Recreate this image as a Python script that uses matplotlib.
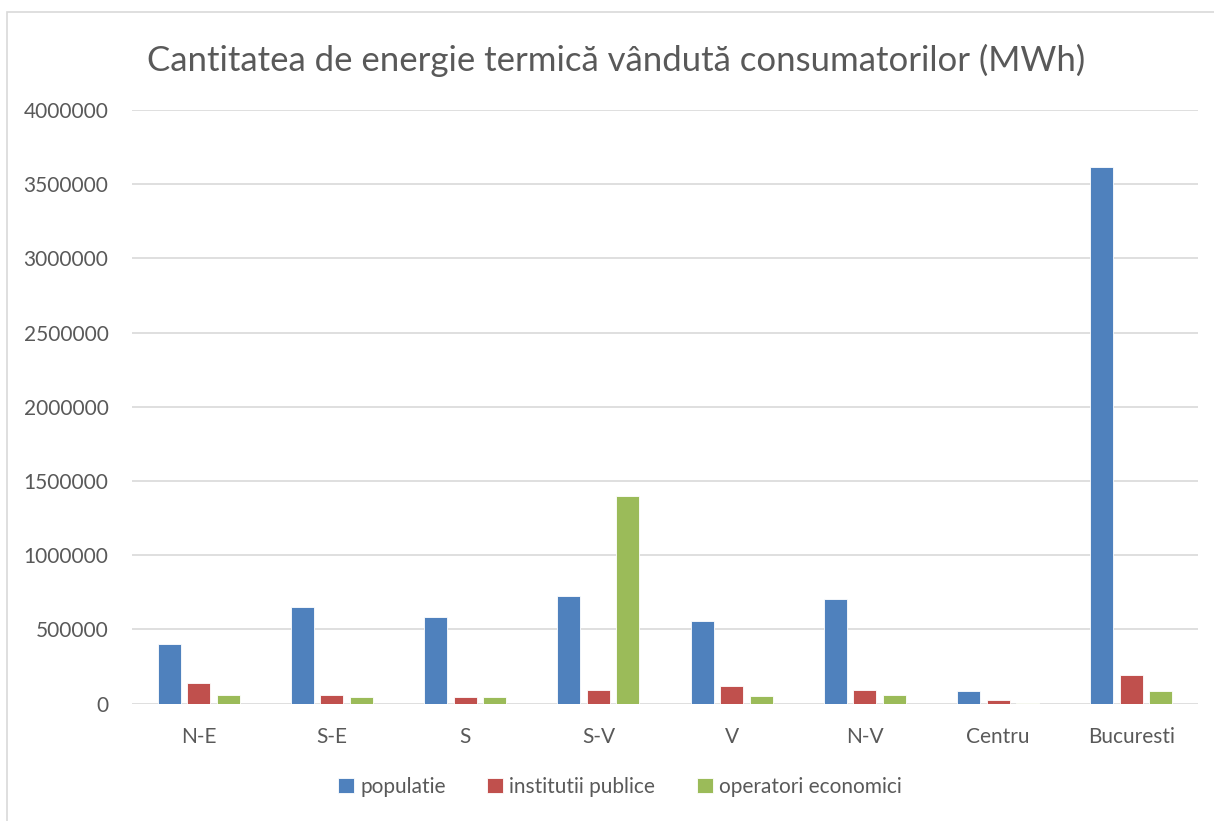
import numpy as np
import matplotlib.pyplot as plt
from matplotlib.patches import Rectangle

plt.rcParams['font.family'] = ['Lato', 'DejaVu Sans']

regiuni = ["N-E", "S-E", "S", "S-V", "V", "N-V", "Centru", "Bucuresti"]
populatie = [400000, 650000, 582000, 723000, 558000, 703000, 85000, 3616000]
institutii = [135000, 60000, 47000, 88000, 119000, 90000, 21000, 194000]
operatori = [54000, 47000, 41000, 1396000, 49000, 58000, 2000, 83000]
serii = ["populatie", "institutii publice", "operatori economici"]
culori = ["#4F81BD", "#C0504D", "#9BBB59"]
text_gri = "#595959"

fig = plt.figure(figsize=(12.14, 8.21), dpi=100)
ax = fig.add_axes([132 / 1214, 1 - 703.5 / 821, (1198 - 132) / 1214, (703.5 - 110) / 821])

# chenarul graficului
fig.patches.append(Rectangle((7 / 1214, -0.1), 1.2, 1 - 12 / 821 + 0.1,
                             transform=fig.transFigure, fill=False,
                             edgecolor="#D9D9D9", linewidth=1.2))

x = np.arange(len(regiuni))
w = 0.172
pas = 0.222
for i, (vals, nume) in enumerate(zip([populatie, institutii, operatori], serii)):
    ax.bar(x + (i - 1) * pas, vals, width=w, color=culori[i],
           edgecolor="white", linewidth=0.6, label=nume, zorder=3)

ax.set_xlim(-0.5, len(regiuni) - 0.5)
ax.set_ylim(0, 4000000)
ax.set_yticks(np.arange(0, 4000001, 500000))
ax.set_yticklabels([str(v) for v in range(0, 4000001, 500000)])
ax.set_xticks(x)
ax.set_xticklabels(regiuni)
ax.grid(axis="y", color="#D9D9D9", linewidth=1.2, zorder=0)
for s in ax.spines.values():
    s.set_visible(False)
ax.tick_params(length=0, labelsize=15, colors=text_gri)
ax.tick_params(axis="y", pad=17)
ax.tick_params(axis="x", pad=17)

fig.text(616 / 1214, 1 - 60 / 821,
         "Cantitatea de energie termică vândută consumatorilor (MWh)",
         ha="center", va="center", fontsize=25, color=text_gri)

fig.legend(loc="center", bbox_to_anchor=(620 / 1214, 1 - 787 / 821), ncol=3,
           frameon=False, fontsize=15, labelcolor=text_gri,
           handlelength=0.75, handleheight=0.75, handletextpad=0.3,
           columnspacing=2.0)

fig.savefig("out.png", dpi=100)
